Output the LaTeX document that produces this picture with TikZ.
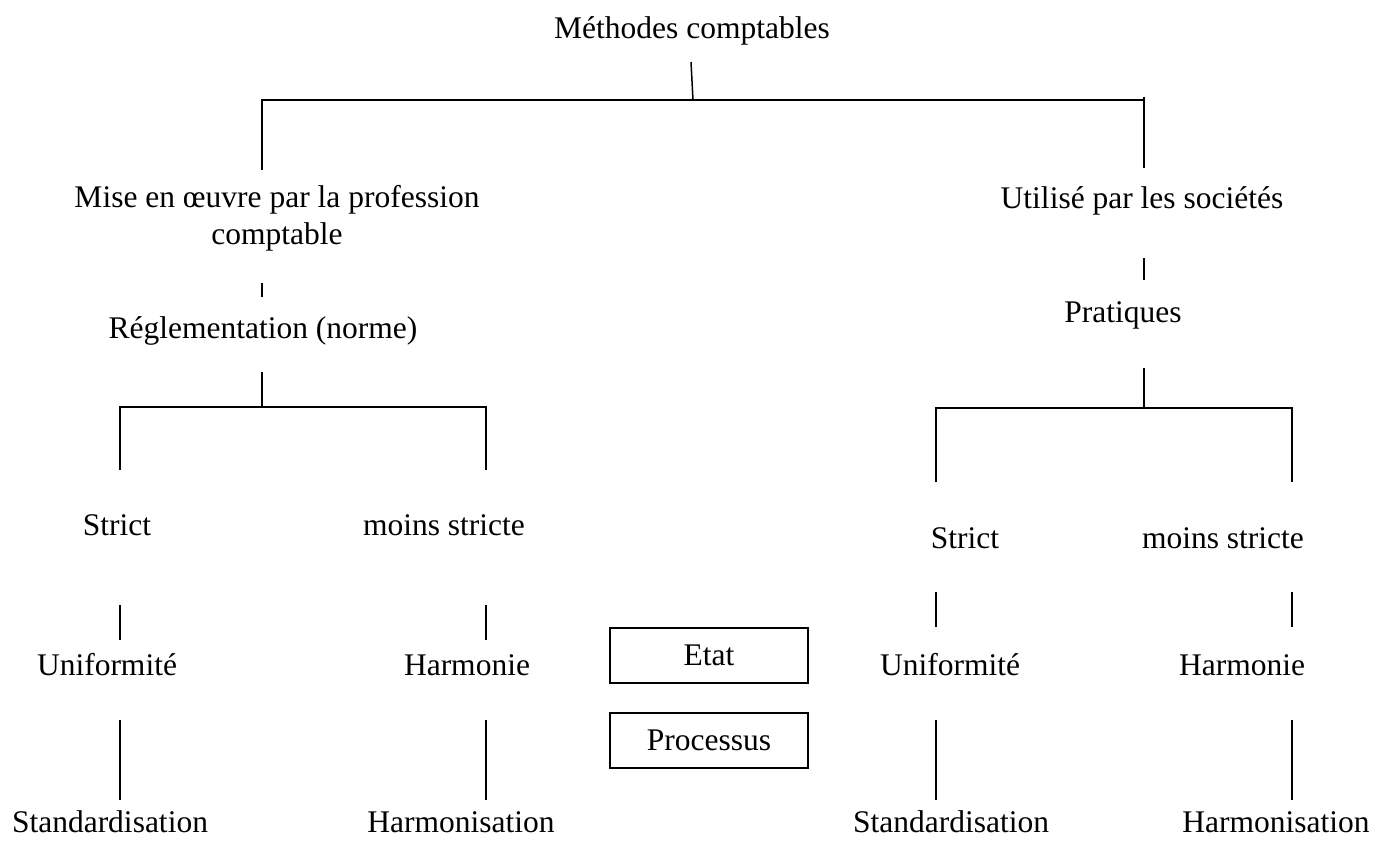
\documentclass[tikz,border=0pt]{standalone}
\usepackage{fontspec}
\setmainfont{Liberation Serif}
\begin{document}
\begin{tikzpicture}[x=1pt,y=-1pt,
  lbl/.style={anchor=base,inner sep=0pt,font=\fontsize{31.5}{37}\selectfont},
  lbl2/.style={anchor=north,inner sep=0pt,align=center,font=\fontsize{31.5}{37}\selectfont},
  wire/.style={line width=1.5pt},
  thick wire/.style={line width=2pt},
  framebox/.style={draw,line width=2pt,minimum width=198pt,minimum height=55pt,inner sep=0pt,font=\fontsize{31.5}{37}\selectfont}]
\useasboundingbox (0,0) rectangle (1375,841);

% --- labels ---
\node[lbl] (root) at (692,38) {Méthodes comptables};

\node[lbl2] (prof) at (277,185) {Mise en œuvre par la profession\\comptable};
\node[lbl] (regl) at (263,338) {Réglementation (norme)};
\node[lbl] (lstrict) at (117,535) {Strict};
\node[lbl] (lmoins) at (444,535) {moins stricte};
\node[lbl] (lunif) at (107,675) {Uniformité};
\node[lbl] (lharm) at (467,675) {Harmonie};
\node[lbl] (lstd) at (110,832) {Standardisation};
\node[lbl] (lharmo) at (461,832) {Harmonisation};

\node[lbl] (soc) at (1142,208) {Utilisé par les sociétés};
\node[lbl] (prat) at (1123,322) {Pratiques};
\node[lbl] (rstrict) at (965,548) {Strict};
\node[lbl] (rmoins) at (1223,548) {moins stricte};
\node[lbl] (runif) at (950,675) {Uniformité};
\node[lbl] (rharm) at (1242,675) {Harmonie};
\node[lbl] (rstd) at (951,832) {Standardisation};
\node[lbl] (rharmo) at (1276,832) {Harmonisation};

\node[framebox] (etat) at (709,655) {Etat};
\node[framebox] (proc) at (709,740) {Processus};

% --- line end points ---
\coordinate (t0) at (691,62);
\coordinate (t1) at (693,100);
\coordinate (tl) at (262,100);
\coordinate (tr) at (1145,100);
\coordinate (tl2) at (262,170);
\coordinate (tr1) at (1144,97);
\coordinate (tr2) at (1144,168);

\coordinate (p1) at (262,283);
\coordinate (p2) at (262,297);
\coordinate (r1) at (262,372);
\coordinate (r2) at (262,407);
\coordinate (bl) at (120,407);
\coordinate (br) at (486,407);
\coordinate (bl2) at (120,470);
\coordinate (br2) at (486,470);

\coordinate (s1) at (1144,258);
\coordinate (s2) at (1144,280);
\coordinate (q1) at (1144,368);
\coordinate (q2) at (1144,408);
\coordinate (cl) at (936,408);
\coordinate (cr) at (1292,408);
\coordinate (cl2) at (936,482);
\coordinate (cr2) at (1292,482);

% --- connectors ---
\draw[wire] (t0) -- (t1);
\draw[thick wire] (tl2) -- (tl) -- (tr);
\draw[wire] (tr1) -- (tr2);

\draw[wire] (p1) -- (p2);
\draw[wire] (r1) -- (r2);
\draw[thick wire] (bl2) -- (bl) -- (br) -- (br2);

\draw[wire] (s1) -- (s2);
\draw[wire] (q1) -- (q2);
\draw[thick wire] (cl2) -- (cl) -- (cr) -- (cr2);

\foreach \x in {120,486} {
  \draw[wire] (\x,605) -- (\x,640);
  \draw[wire] (\x,720) -- (\x,800);
}
\foreach \x in {936,1292} {
  \draw[wire] (\x,592) -- (\x,627);
  \draw[wire] (\x,720) -- (\x,800);
}
\end{tikzpicture}
\end{document}
